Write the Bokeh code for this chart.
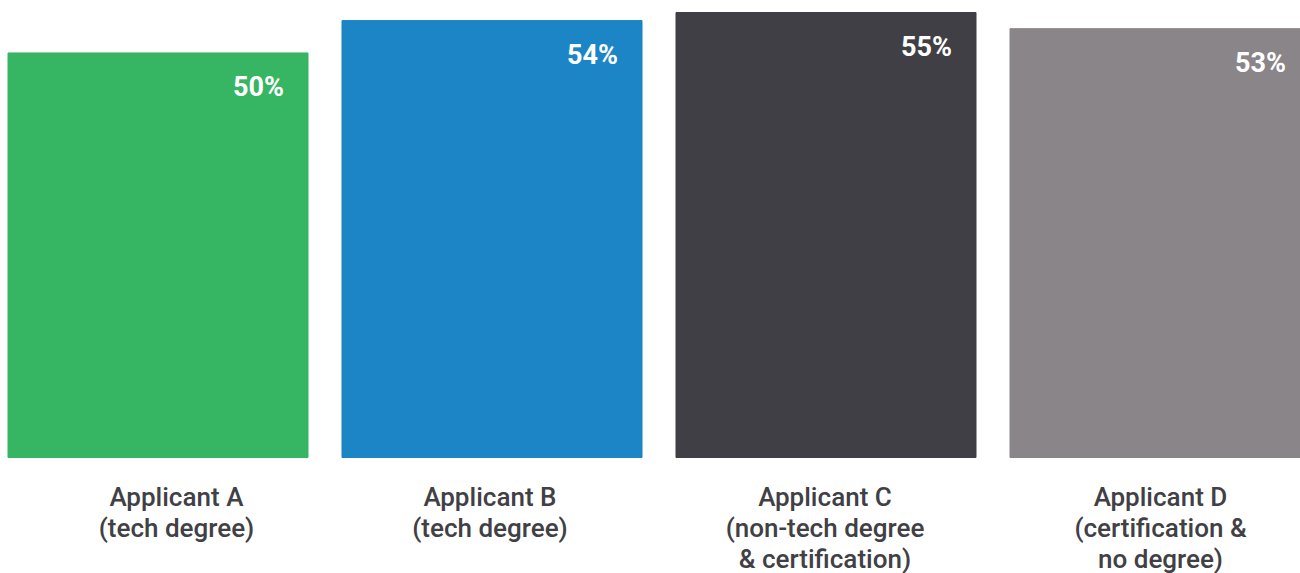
from bokeh.plotting import figure
from bokeh.models import Range1d, ColumnDataSource
from bokeh.core.properties import value
from bokeh.embed import file_html
from bokeh.resources import INLINE

categories = ["Applicant A\n(tech degree)",
              "Applicant B\n(tech degree)",
              "Applicant C\n(non-tech degree\n& certification)",
              "Applicant D\n(certification &\nno degree)"]
values = [50, 54, 55, 53]
colors = ["#36B563", "#1B85C5", "#3F3F45", "#8A8588"]

# layout tweaks (pixels) for category label horizontal placement
label_dx_px = [18.5, -2.0, -1.0, 0.5]

W, H = 1300, 573
pitch = 334.0
bar_w = 300.0 / pitch
x0 = -157.5 / pitch
base_px = 457.0
ppu = (base_px - 12.0) / 55.0
y_top = 55 + 12 / ppu
y_bot = -(H - base_px) / ppu

p = figure(width=W, height=H, output_backend="svg", toolbar_location=None,
           x_range=Range1d(x0, x0 + W / pitch), y_range=Range1d(y_bot, y_top),
           min_border=0, min_border_left=0, min_border_right=0,
           min_border_top=0, min_border_bottom=0)
p.outline_line_color = None
p.axis.visible = False
p.grid.visible = False
p.background_fill_color = "white"
p.border_fill_color = "white"

xs = list(range(len(values)))
src = ColumnDataSource(dict(x=xs, top=values, color=colors,
                            lx=[x + bar_w / 2 - 24 / pitch for x in xs],
                            ly=[v - 34 / ppu for v in values],
                            lt=[f"{v}%" for v in values]))
p.vbar(x="x", top="top", bottom=0, width=bar_w, color="color", source=src)
p.text(x="lx", y="ly", text="lt", source=src, text_color="white",
       text_font=value("Roboto"), text_font_style="bold", text_font_size="27px",
       text_align="right", text_baseline="middle")

lx, ly, lt = [], [], []
for i, c in enumerate(categories):
    for j, line in enumerate(c.split("\n")):
        lx.append(i + label_dx_px[i] / pitch)
        ly.append(-(39 + 31 * j) / ppu)
        lt.append(line)
p.text(x=lx, y=ly, text=lt, text_color="#404045",
       text_font=value("Roboto Medium, Roboto"),
       text_font_size="26px", text_align="center", text_baseline="middle")

open("out.html", "w").write(file_html(p, INLINE))
